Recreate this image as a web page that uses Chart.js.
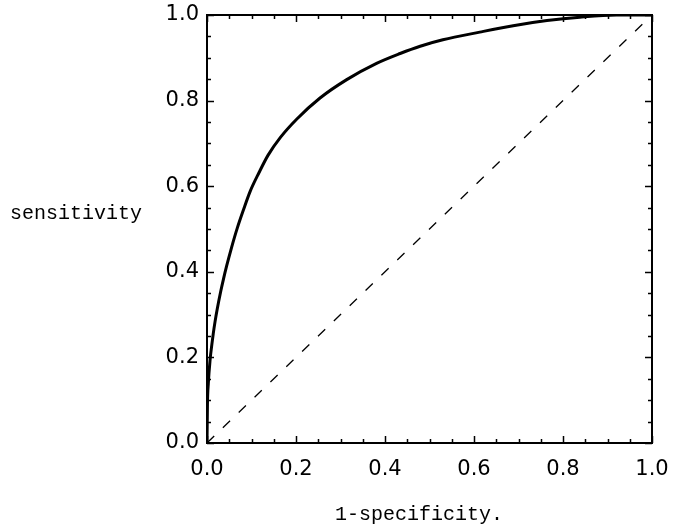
<!DOCTYPE html>
<html>
<head>
<meta charset="utf-8">
<script src="https://cdn.jsdelivr.net/npm/chart.js@4.4.1/dist/chart.umd.min.js"></script>
<style>
  body { margin: 0; background: #fff; }
  canvas { display: block; }
</style>
</head>
<body>
<canvas id="roc" width="674" height="527"></canvas>
<script>
// ROC curve
const fpr = [0, 0.001, 0.003, 0.007, 0.011, 0.014, 0.018, 0.023, 0.031, 0.037, 0.044, 0.055, 0.068, 0.082, 0.097, 0.117, 0.137, 0.165, 0.202, 0.254, 0.314, 0.381, 0.434, 0.479, 0.53, 0.613, 0.688, 0.764, 0.838, 0.92, 1.0];
const tpr = [0, 0.090, 0.140, 0.195, 0.231, 0.255, 0.283, 0.313, 0.355, 0.383, 0.413, 0.456, 0.502, 0.545, 0.588, 0.632, 0.672, 0.714, 0.757, 0.806, 0.849, 0.887, 0.910, 0.927, 0.942, 0.960, 0.975, 0.987, 0.995, 1.0, 1.0];
const chanceX = [0, 1];
const chanceY = [0, 1];
const xLabel = '1-specificity.';
const yLabel = 'sensitivity';

const pts = (xs, ys) => xs.map((x, i) => ({ x: x, y: ys[i] }));
const isMajor = v => Math.round(v * 20) % 4 === 0;

// frame, inward ticks on all four sides and the two axis titles
const frameTicks = {
	id: 'frameTicks',
	afterDraw(chart) {
		const ctx = chart.ctx;
		const a = chart.chartArea;
		const xs = chart.scales.x, ys = chart.scales.y;
		ctx.save();
		ctx.strokeStyle = '#000';
		ctx.lineWidth = 1.5;
		xs.ticks.forEach(t => {
			const px = Math.round(xs.getPixelForValue(t.value)) + 0.5;
			const len = isMajor(t.value) ? 7 : 4;
			ctx.beginPath();
			ctx.moveTo(px, a.bottom); ctx.lineTo(px, a.bottom - len);
			ctx.moveTo(px, a.top); ctx.lineTo(px, a.top + len);
			ctx.stroke();
		});
		ys.ticks.forEach(t => {
			const py = Math.round(ys.getPixelForValue(t.value)) + 0.5;
			const len = isMajor(t.value) ? 7 : 4;
			ctx.beginPath();
			ctx.moveTo(a.left, py); ctx.lineTo(a.left + len, py);
			ctx.moveTo(a.right, py); ctx.lineTo(a.right - len, py);
			ctx.stroke();
		});
		ctx.lineWidth = 2;
		ctx.strokeRect(a.left, a.top, a.right - a.left, a.bottom - a.top);

		ctx.fillStyle = '#000';
		ctx.font = '20px "Liberation Mono"';
		ctx.textBaseline = 'alphabetic';
		ctx.textAlign = 'left';
		ctx.fillText(yLabel, 10, 219);
		ctx.fillText(xLabel, 335, 520);
		ctx.restore();
	}
};

const tickFont = { family: '"DejaVu Sans"', size: 21 };
const noPad = s => { s.paddingLeft = 0; s.paddingRight = 0; s.paddingTop = 0; s.paddingBottom = 0; };

new Chart(document.getElementById('roc').getContext('2d'), {
	type: 'scatter',
	data: {
		datasets: [
			{
				data: pts(fpr, tpr),
				showLine: true,
				borderColor: '#000',
				borderWidth: 3,
				pointRadius: 0,
				cubicInterpolationMode: 'monotone',
			},
			{
				data: pts(chanceX, chanceY),
				showLine: true,
				borderColor: '#000',
				borderWidth: 1.3,
				borderDash: [10, 12],
				pointRadius: 0,
			},
		],
	},
	options: {
		responsive: false,
		animation: false,
		layout: { padding: { left: 0, top: 15, right: 22, bottom: 0 } },
		plugins: {
			legend: { display: false },
			tooltip: { enabled: false },
		},
		scales: {
			x: {
				type: 'linear',
				min: 0,
				max: 1,
				border: { display: false },
				grid: { display: false, drawTicks: false },
				ticks: {
					stepSize: 0.05,
					autoSkip: false,
					maxRotation: 0,
					padding: 14,
					color: '#000',
					font: tickFont,
					callback: v => isMajor(v) ? v.toFixed(1) : '',
				},
				afterFit: s => { s.height = 84; noPad(s); },
			},
			y: {
				type: 'linear',
				min: 0,
				max: 1,
				border: { display: false },
				grid: { display: false, drawTicks: false },
				ticks: {
					stepSize: 0.05,
					autoSkip: false,
					padding: 8,
					color: '#000',
					font: tickFont,
					callback: v => isMajor(v) ? v.toFixed(1) : '',
				},
				afterFit: s => { s.width = 207; noPad(s); },
			},
		},
	},
	plugins: [frameTicks],
});
</script>
</body>
</html>
